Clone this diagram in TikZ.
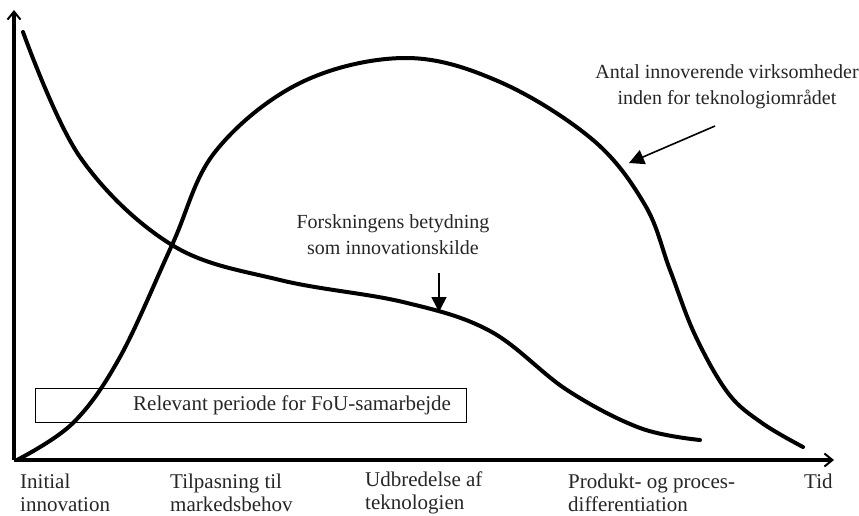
\documentclass[tikz,border=0pt]{standalone}
\usepackage{fontspec}
\setmainfont{Liberation Serif}
\usetikzlibrary{positioning,arrows.meta}
\definecolor{Ink}{HTML}{262626}
\tikzset{
  axis line/.style={line width=3.5pt,-{Straight Barb[length=8pt,width=13pt,line width=2pt]}},
  trend curve/.style={line width=4pt,line join=round,line cap=round},
  note arrow/.style={-{Triangle[length=15pt,width=15pt]},line width=1.6pt},
  note text/.style={align=center,font=\fontsize{20}{26}\selectfont,text=Ink,inner sep=0pt},
  phase text/.style={align=left,anchor=west,font=\fontsize{21}{23}\selectfont,text=Ink,inner sep=0pt},
  period box/.style={draw,line width=1pt,minimum width=431pt,minimum height=34pt,inner sep=0pt}
}

\begin{document}
\begin{tikzpicture}[x=1pt,y=-1pt]
  \useasboundingbox (0,0) rectangle (859,515);
  % axes
  \coordinate (origin) at (14,460);
  \coordinate (ytop) at (14,10);
  \coordinate (xend) at (834,460);
  \draw[axis line] (origin) -- (ytop);
  \draw[axis line] (origin) -- (xend);
  % research importance
  \draw[trend curve] plot[smooth,tension=0.6] coordinates {(23,32) (80,157) (172,245)
    (280,280) (403,302) (490,331) (567,390) (640,428) (700,440)};
  % number of innovating firms
  \draw[trend curve] plot[smooth,tension=0.6] coordinates {(17,460) (73,423) (120,357)
    (172,245) (215,152) (300,83) (405,58) (500,82) (593,140) (645,205) (670,270)
    (695,335) (728,393) (762,423) (803,447)};
  % labels
  \node[note text] (antal) at (727,87) {Antal innoverende virksomheder\\inden for teknologiområdet};
  \coordinate (antaltail) at (715,126);
  \coordinate (antaltip) at (629,163);
  \draw[note arrow] (antaltail) -- (antaltip);
  \node[note text] (forsk) at (393,235) {Forskningens betydning\\som innovationskilde};
  \coordinate (forsktail) at (439,273);
  \coordinate (forsktip) at (439,312);
  \draw[note arrow] (forsktail) -- (forsktip);
  \node[period box] (period) at (250.5,405) {};
  \node[note text,anchor=west,font=\fontsize{21}{23}\selectfont] (periodtext) at (133,405) {Relevant periode for FoU-samarbejde};
  % phases
  \node[phase text] (initial) at (20,493) {Initial\\innovation};
  \node[phase text] (tilpas) at (170,493) {Tilpasning til\\markedsbehov};
  \node[phase text] (udbred) at (365,493) {Udbredelse af\\teknologien};
  \node[phase text] (produkt) at (568,493) {Produkt- og proces-\\differentiation};
  \node[phase text] (tid) at (804,481) {Tid};
\end{tikzpicture}
\end{document}
